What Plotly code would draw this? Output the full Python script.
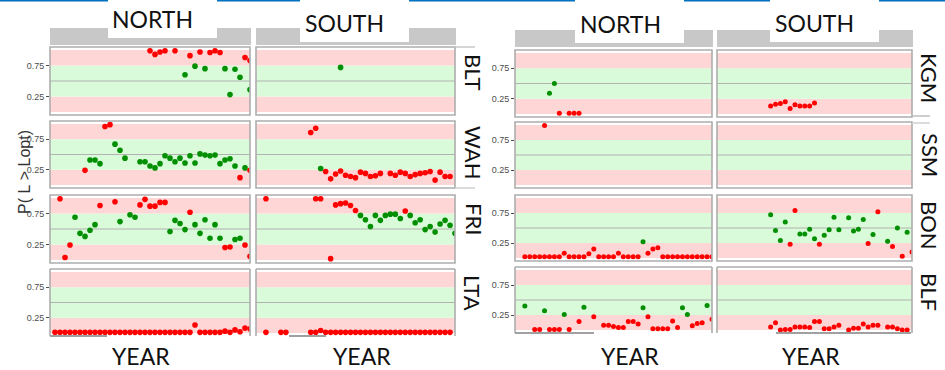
import plotly.graph_objects as go

W, H = 945, 370

# ---------------- data: P(L > Lopt) by year, lake and basin ----------------
BLT_N_YEAR = [1995, 1996, 1997, 1998, 2000, 2002, 2003, 2004, 2005, 2006, 2007, 2008,
              2009, 2010, 2011, 2012, 2013, 2014, 2015, 2015]
BLT_N_P = [0.99, 0.93, 0.97, 0.99, 0.99, 0.60, 0.91, 0.74, 0.97, 0.70, 0.96, 0.99,
           0.96, 0.70, 0.28, 0.69, 0.56, 0.88, 0.83, 0.36]
BLT_S_YEAR = [1992]
BLT_S_P = [0.72]

WAH_N_YEAR = [1982, 1983, 1984, 1985, 1986, 1987, 1988, 1989, 1990, 1993, 1994, 1995,
              1996, 1997, 1998, 1999, 2000, 2001, 2002, 2003, 2004, 2005, 2006, 2007,
              2008, 2009, 2010, 2011, 2012, 2013, 2014, 2015]
WAH_N_P = [0.24, 0.41, 0.41, 0.35, 0.96, 0.99, 0.67, 0.57, 0.44, 0.38, 0.38, 0.31,
           0.28, 0.35, 0.48, 0.44, 0.38, 0.44, 0.36, 0.48, 0.36, 0.51, 0.49, 0.48,
           0.49, 0.35, 0.41, 0.43, 0.31, 0.12, 0.28, 0.24]
WAH_S_YEAR = [1986, 1987, 1988, 1989, 1990, 1991, 1992, 1993, 1994, 1995, 1996, 1997,
              1998, 1999, 2000, 2002, 2003, 2004, 2005, 2006, 2007, 2008, 2009, 2010,
              2011, 2012, 2013, 2014]
WAH_S_P = [0.86, 0.93, 0.27, 0.22, 0.10, 0.18, 0.23, 0.16, 0.14, 0.12, 0.21, 0.19,
           0.14, 0.15, 0.19, 0.19, 0.16, 0.21, 0.19, 0.14, 0.17, 0.19, 0.20, 0.22,
           0.08, 0.21, 0.14, 0.14]

FRI_N_YEAR = [1977, 1978, 1979, 1980, 1981, 1982, 1983, 1984, 1985, 1988, 1989, 1991,
              1992, 1993, 1994, 1995, 1996, 1997, 1998, 1999, 2000, 2001, 2002, 2003,
              2004, 2005, 2006, 2007, 2008, 2009, 2010, 2011, 2012, 2013, 2014, 2015]
FRI_N_P = [0.99, 0.04, 0.24, 0.69, 0.43, 0.38, 0.48, 0.57, 0.88, 0.94, 0.62, 0.73,
           0.69, 0.89, 0.98, 0.87, 0.87, 0.93, 0.93, 0.46, 0.64, 0.59, 0.49, 0.77,
           0.57, 0.43, 0.65, 0.35, 0.57, 0.35, 0.20, 0.21, 0.33, 0.35, 0.24, 0.06]
FRI_S_YEAR = [1977, 1987, 1988, 1990, 1991, 1992, 1993, 1994, 1995, 1996, 1997, 1998,
              1999, 2000, 2001, 2002, 2003, 2004, 2005, 2006, 2007, 2008, 2009, 2010,
              2011, 2012, 2013, 2014, 2015]
FRI_S_P = [0.99, 0.99, 0.99, 0.02, 0.89, 0.91, 0.92, 0.88, 0.80, 0.72, 0.65, 0.54,
           0.72, 0.64, 0.72, 0.74, 0.74, 0.67, 0.79, 0.72, 0.60, 0.65, 0.49, 0.54,
           0.45, 0.58, 0.64, 0.56, 0.43]

LTA_N_YEAR = [1976, 1977, 1978, 1979, 1980, 1981, 1982, 1983, 1984, 1985, 1986, 1987,
              1988, 1989, 1990, 1991, 1992, 1993, 1994, 1995, 1996, 1997, 1998, 1999,
              2000, 2001, 2002, 2003, 2004, 2005, 2006, 2007, 2008, 2009, 2010, 2011,
              2012, 2013, 2014, 2015]
LTA_N_P = [0.01, 0.01, 0.01, 0.01, 0.01, 0.01, 0.01, 0.01, 0.01, 0.01, 0.01, 0.01,
           0.01, 0.01, 0.01, 0.01, 0.01, 0.01, 0.01, 0.01, 0.01, 0.01, 0.01, 0.01,
           0.01, 0.01, 0.01, 0.01, 0.13, 0.01, 0.01, 0.01, 0.01, 0.01, 0.03, 0.01,
           0.05, 0.02, 0.08, 0.07]
LTA_S_YEAR = [1977, 1980, 1981, 1986, 1987, 1988, 1989, 1990, 1991, 1992, 1993, 1994,
              1995, 1996, 1997, 1998, 1999, 2000, 2001, 2002, 2003, 2004, 2005, 2006,
              2007, 2008, 2009, 2010, 2011, 2012, 2013, 2014]
LTA_S_P = [0.01, 0.01, 0.01, 0.01, 0.01, 0.04, 0.01, 0.01, 0.01, 0.01, 0.01, 0.01,
           0.01, 0.01, 0.01, 0.01, 0.01, 0.01, 0.01, 0.01, 0.01, 0.01, 0.01, 0.01,
           0.01, 0.01, 0.01, 0.01, 0.01, 0.01, 0.01, 0.01]

KGM_N_YEAR = [1982, 1983, 1984, 1986, 1987, 1988]
KGM_N_P = [0.34, 0.50, 0.01, 0.01, 0.01, 0.01]
KGM_S_YEAR = [1986, 1987, 1988, 1989, 1990, 1991, 1992, 1993, 1994, 1995]
KGM_S_P = [0.13, 0.16, 0.17, 0.20, 0.09, 0.15, 0.13, 0.13, 0.13, 0.18]

SSM_N_YEAR = [1981]
SSM_N_P = [0.99]
SSM_S_YEAR = []
SSM_S_P = []

BON_N_YEAR = [1977, 1978, 1979, 1980, 1981, 1982, 1983, 1984, 1985, 1986, 1987, 1988,
              1989, 1990, 1991, 1992, 1993, 1994, 1995, 1996, 1997, 1998, 1999, 2000,
              2001, 2002, 2003, 2004, 2005, 2006, 2007, 2008, 2009, 2010, 2011, 2012,
              2013, 2014, 2015]
BON_N_P = [0.02, 0.02, 0.02, 0.02, 0.02, 0.02, 0.02, 0.02, 0.08, 0.02, 0.02, 0.02,
           0.02, 0.07, 0.15, 0.02, 0.02, 0.02, 0.02, 0.08, 0.02, 0.02, 0.02, 0.02,
           0.27, 0.08, 0.15, 0.17, 0.02, 0.02, 0.02, 0.02, 0.02, 0.02, 0.02, 0.02,
           0.02, 0.02, 0.02]
BON_S_YEAR = [1986, 1987, 1988, 1989, 1990, 1991, 1992, 1993, 1994, 1995, 1996, 1997,
              1998, 1999, 2000, 2002, 2003, 2004, 2005, 2006, 2007, 2008, 2010, 2011,
              2012, 2013, 2014, 2015]
BON_S_P = [0.72, 0.46, 0.29, 0.60, 0.23, 0.79, 0.40, 0.40, 0.48, 0.32, 0.23, 0.38,
           0.47, 0.68, 0.47, 0.67, 0.45, 0.48, 0.64, 0.24, 0.39, 0.77, 0.28, 0.19,
           0.50, 0.03, 0.43, 0.10]

BLF_N_YEAR = [1977, 1979, 1980, 1981, 1982, 1983, 1984, 1985, 1986, 1988, 1989, 1991,
              1993, 1994, 1995, 1996, 1997, 1998, 1999, 2000, 2001, 2002, 2003, 2004,
              2005, 2006, 2007, 2008, 2009, 2010, 2011, 2012, 2013, 2014, 2015]
BLF_N_P = [0.40, 0.01, 0.01, 0.32, 0.01, 0.01, 0.01, 0.26, 0.01, 0.14, 0.38, 0.22,
           0.08, 0.08, 0.06, 0.04, 0.04, 0.14, 0.14, 0.10, 0.37, 0.22, 0.02, 0.02,
           0.02, 0.02, 0.15, 0.04, 0.37, 0.26, 0.07, 0.11, 0.12, 0.41, 0.18]
BLF_S_YEAR = [1986, 1987, 1988, 1989, 1990, 1991, 1992, 1993, 1994, 1995, 1996, 1997,
              1998, 1999, 2000, 2002, 2003, 2004, 2005, 2006, 2007, 2008, 2010, 2011,
              2012, 2013, 2014]
BLF_S_P = [0.05, 0.12, 0.00, 0.01, 0.01, 0.05, 0.05, 0.05, 0.04, 0.14, 0.14, 0.02,
           0.02, 0.05, 0.08, 0.00, 0.03, 0.03, 0.10, 0.05, 0.08, 0.08, 0.05, 0.05,
           0.02, 0.00, 0.00]

LEFT_LAKES = ["BLT", "WAH", "FRI", "LTA"]
RIGHT_LAKES = ["KGM", "SSM", "BON", "BLF"]
BASINS = ["NORTH", "SOUTH"]
YEAR_RANGE = [1975, 2015]
P_RANGE = [-0.05, 1.05]
LOW, HIGH = 0.25, 0.75

SERIES = {
    ("BLT", "NORTH"): (BLT_N_YEAR, BLT_N_P), ("BLT", "SOUTH"): (BLT_S_YEAR, BLT_S_P),
    ("WAH", "NORTH"): (WAH_N_YEAR, WAH_N_P), ("WAH", "SOUTH"): (WAH_S_YEAR, WAH_S_P),
    ("FRI", "NORTH"): (FRI_N_YEAR, FRI_N_P), ("FRI", "SOUTH"): (FRI_S_YEAR, FRI_S_P),
    ("LTA", "NORTH"): (LTA_N_YEAR, LTA_N_P), ("LTA", "SOUTH"): (LTA_S_YEAR, LTA_S_P),
    ("KGM", "NORTH"): (KGM_N_YEAR, KGM_N_P), ("KGM", "SOUTH"): (KGM_S_YEAR, KGM_S_P),
    ("SSM", "NORTH"): (SSM_N_YEAR, SSM_N_P), ("SSM", "SOUTH"): (SSM_S_YEAR, SSM_S_P),
    ("BON", "NORTH"): (BON_N_YEAR, BON_N_P), ("BON", "SOUTH"): (BON_S_YEAR, BON_S_P),
    ("BLF", "NORTH"): (BLF_N_YEAR, BLF_N_P), ("BLF", "SOUTH"): (BLF_S_YEAR, BLF_S_P),
}

# ---------------- styling ----------------
RED = "#FF0000"
GREEN = "#008F00"
PINK_BAND = "#FFD6D6"
GREEN_BAND = "#D9FBD9"
MID_LINE = "#B2B2B2"
BORDER = "#ADADAD"
STRIP = "#C8C8C8"
TITLE_FONT = "Lato"
TICK_FONT = "Liberation Sans"

# two facet grids side by side (pixel boxes)
GROUPS = [
    dict(lakes=LEFT_LAKES, cols=[(50, 250), (256, 455)],
         rows=[(47, 115), (121, 188), (195, 263), (269, 336)],
         strip=(28, 45), msize=5.6,
         bottom_visible=[(50, 107), (289, 326)]),
    dict(lakes=RIGHT_LAKES, cols=[(515, 712), (717, 912)],
         rows=[(50, 117), (122, 188), (195, 261), (267, 333)],
         strip=(30, 47), msize=5.0,
         bottom_visible=[(515, 594), (776, 911)]),
]


def fx(v):
    return v / W


def fy(v):
    return 1 - v / H


def line(x0, y0, x1, y1, color, width):
    return dict(type="line", xref="paper", yref="paper", x0=fx(x0), y0=fy(y0),
                x1=fx(x1), y1=fy(y1), line=dict(color=color, width=width), layer="above")


def box(x0, y0, x1, y1, fill):
    return dict(type="rect", xref="paper", yref="paper", x0=fx(x0), y0=fy(y1),
                x1=fx(x1), y1=fy(y0), fillcolor=fill, line=dict(width=0), layer="above")


fig = go.Figure()
layout = dict(width=W, height=H, margin=dict(l=0, r=0, t=0, b=0),
              paper_bgcolor="white", plot_bgcolor="rgba(0,0,0,0)", showlegend=False)
shapes = []
annotations = []

k = 0
for g in GROUPS:
    for r, lake in enumerate(g["lakes"]):
        y0, y1 = g["rows"][r]
        for c, basin in enumerate(BASINS):
            x0, x1 = g["cols"][c]
            k += 1
            xa = "x" if k == 1 else f"x{k}"
            ya = "y" if k == 1 else f"y{k}"
            xkey = "xaxis" if k == 1 else f"xaxis{k}"
            ykey = "yaxis" if k == 1 else f"yaxis{k}"
            layout[xkey] = dict(domain=[fx(x0), fx(x1)], range=YEAR_RANGE, anchor=ya,
                                showgrid=False, zeroline=False, showticklabels=False,
                                ticks="", showline=False)
            ydict = dict(domain=[fy(y1), fy(y0)], range=P_RANGE, anchor=xa,
                         showgrid=False, zeroline=False, showline=False)
            if c == 0:
                ydict.update(tickvals=[LOW, HIGH], ticktext=["0.25", "0.75"],
                             ticks="outside", ticklen=3, tickwidth=1,
                             tickcolor="#4D4D4D",
                             tickfont=dict(family=TICK_FONT, size=9, color="#4D4D4D"))
            else:
                ydict.update(showticklabels=False, ticks="")
            layout[ykey] = ydict

            # threshold bands and the 0.5 reference line
            for b0, b1, col in [(0, LOW, PINK_BAND), (LOW, HIGH, GREEN_BAND),
                                (HIGH, 1, PINK_BAND)]:
                shapes.append(dict(type="rect", xref=f"{xa} domain", yref=ya,
                                   x0=0, x1=1, y0=b0, y1=b1, fillcolor=col,
                                   line=dict(width=0), layer="below"))
            shapes.append(dict(type="line", xref=f"{xa} domain", yref=ya, x0=0, x1=1,
                               y0=0.5, y1=0.5, line=dict(color=MID_LINE, width=1.2),
                               layer="below"))

            years, p = SERIES[(lake, basin)]
            colors = [RED if (v < LOW or v > HIGH) else GREEN for v in p]
            fig.add_trace(go.Scatter(x=years, y=p, mode="markers", xaxis=xa, yaxis=ya,
                                     marker=dict(color=colors, size=g["msize"],
                                                 line=dict(width=0)),
                                     hoverinfo="x+y"))

            # panel border; the bottom row only keeps part of its lower edge
            if r < 3:
                shapes.append(dict(type="rect", xref="paper", yref="paper",
                                   x0=fx(x0), x1=fx(x1), y0=fy(y1), y1=fy(y0),
                                   line=dict(color=BORDER, width=1.6),
                                   fillcolor="rgba(0,0,0,0)", layer="above"))
            else:
                shapes.append(line(x0, y1, x0, y0, BORDER, 1.6))
                shapes.append(line(x0, y0, x1, y0, BORDER, 1.6))
                shapes.append(line(x1, y0, x1, y1, BORDER, 1.6))
                bx0, bx1 = g["bottom_visible"][c]
                shapes.append(line(bx0, y1, bx1, y1, "#A0A0A0", 1.8))

    # grey facet strips along the top
    s0, s1 = g["strip"]
    for (x0, x1) in g["cols"]:
        shapes.append(box(x0, s0, x1 + 1, s1, STRIP))

# fragments of the right-hand strips
shapes.append(line(455, 47, 475, 47, "#C8C8C8", 1.5))
shapes.append(line(455, 188, 475, 188, "#D0D0D0", 1.5))
shapes.append(line(912, 116, 930, 116, "#BDBDBD", 1.5))
shapes.append(line(912, 123, 930, 123, "#D0D0D0", 1.5))

# blue rule along the top edge
shapes.append(box(0, 0, 108, 1.6, "#0070C0"))
shapes.append(box(217, 0, 945, 1.6, "#0070C0"))

# white label boxes over the strips
for (bx0, bx1, by1) in [(108, 217, 38), (300, 409, 42), (575, 684, 43), (770, 879, 42)]:
    shapes.append(box(bx0, 0, bx1, by1, "white"))


def text(s, x, y, size, angle=0, color="#111111", family=TITLE_FONT):
    annotations.append(dict(text=s, x=fx(x), y=fy(y), xref="paper", yref="paper",
                            showarrow=False, textangle=angle, xanchor="center",
                            yanchor="middle",
                            font=dict(family=family, size=size, color=color)))


for s, x, y in [("NORTH", 152, 19), ("SOUTH", 344, 23), ("NORTH", 620, 24),
                ("SOUTH", 814, 23)]:
    text(s, x, y, 23)
for x in [141, 362, 630, 811]:
    text("YEAR", x, 356, 23)
for s, x, y in [("BLT", 474, 72), ("WAH", 474, 153), ("FRI", 474, 219), ("LTA", 473, 293),
                ("KGM", 930, 78), ("SSM", 930, 155), ("BON", 930, 225), ("BLF", 930, 292)]:
    text(s, x, y, 22, angle=90)
text("P(\u00a0L\u00a0&gt;\u00a0Lopt)", 24, 172, 16, angle=-90, color="#333333",
     family=TICK_FONT)

layout["shapes"] = shapes
layout["annotations"] = annotations
fig.update_layout(**layout)
fig.write_html("out.html")
